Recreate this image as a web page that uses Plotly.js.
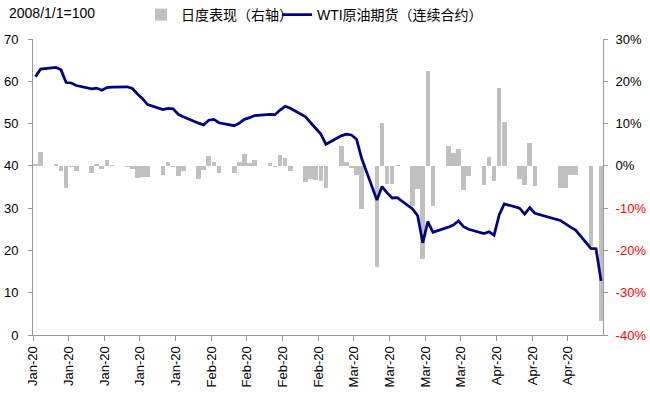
<!DOCTYPE html>
<html><head><meta charset="utf-8">
<script src="https://cdn.plot.ly/plotly-3.0.1.min.js"></script>
<style>html,body{margin:0;padding:0;background:#fff}#chart{width:650px;height:399px}</style>
</head><body><div id="chart"></div>
<script>
// ---- data ----
const dates = [
 '2020-01-02','2020-01-03','2020-01-06','2020-01-07','2020-01-08','2020-01-09','2020-01-10',
 '2020-01-13','2020-01-14','2020-01-15','2020-01-16','2020-01-17',
 '2020-01-20','2020-01-21','2020-01-22','2020-01-23','2020-01-24',
 '2020-01-27','2020-01-28','2020-01-29','2020-01-30','2020-01-31',
 '2020-02-03','2020-02-04','2020-02-05','2020-02-06','2020-02-07',
 '2020-02-10','2020-02-11','2020-02-12','2020-02-13','2020-02-14',
 '2020-02-17','2020-02-18','2020-02-19','2020-02-20','2020-02-21',
 '2020-02-24','2020-02-25','2020-02-26','2020-02-27','2020-02-28',
 '2020-03-02','2020-03-03','2020-03-04','2020-03-05','2020-03-06',
 '2020-03-09','2020-03-10','2020-03-11','2020-03-12','2020-03-13',
 '2020-03-16','2020-03-17','2020-03-18','2020-03-19','2020-03-20',
 '2020-03-23','2020-03-24','2020-03-25','2020-03-26','2020-03-27',
 '2020-03-30','2020-03-31','2020-04-01','2020-04-02','2020-04-03',
 '2020-04-06','2020-04-07','2020-04-08','2020-04-09',
 '2020-04-14','2020-04-15','2020-04-16','2020-04-17',
 '2020-04-20','2020-04-21','2020-04-22'
];
// WTI crude futures (continuous), index 2008/1/1=100, left axis
const wti = [
 61.1,62.9,63.3,62.7,59.7,59.6,59.0,
 58.2,58.4,57.9,58.5,58.6,
 58.7,58.3,57.0,55.9,54.5,
 53.3,53.6,53.5,52.2,51.6,
 50.1,49.7,50.8,51.0,50.2,
 49.5,50.1,51.0,51.4,51.9,
 52.2,52.1,53.2,54.1,53.6,
 51.6,50.2,48.9,47.5,45.1,
 47.1,47.5,47.3,46.3,41.8,
 31.9,35.1,33.6,32.4,32.5,
 29.8,28.2,21.8,26.8,24.3,
 25.5,26.0,27.0,25.6,25.0,
 24.0,24.4,23.6,28.4,31.0,
 30.0,28.6,30.1,28.8,
 27.1,26.2,25.5,24.8,
 20.5,20.4,12.8
];
// daily performance in %, right axis
const daily = [
 0.4,3.2,0.4,-1.2,-5.3,-0.3,-1.3,
 -1.8,0.4,-0.8,1.3,0.3,
 -0.3,-0.8,-2.9,-2.6,-2.7,
 -2.2,0.8,-0.3,-2.5,-1.3,
 -3.1,-0.9,2.3,0.8,-1.6,
 -1.7,0.9,2.7,0.6,1.3,
 0.7,-0.3,2.5,1.8,-1.2,
 -3.9,-3.1,-3.3,-3.6,-5.3,
 4.6,1.0,-0.5,-2.1,-10.1,
 -23.9,10.2,-4.2,-4.2,0.3,
 -9.6,-5.5,-22.0,22.4,-9.4,
 4.8,3.0,3.9,-5.6,-2.5,
 -4.5,2.0,-3.5,18.3,10.3,
 -3.2,-4.6,5.4,-4.7,
 -5.3,-5.3,-2.2,-2.2,
 -18.9,0,-36.8
];
const rightTickVals = [-40,-30,-20,-10,0,10,20,30];
const rightTickText = ['-40%','-30%','-20%','-10%','0%','10%','20%','30%'];
const leftTickVals = [0,10,20,30,40,50,60,70];
const seriesNames = ['日度表现（右轴）','WTI原油期货（连续合约）'];
const indexNote = '2008/1/1=100';

// ---- drawing ----
const FONT = '"Liberation Sans", Arial, "Noto Sans CJK SC", sans-serif';
const DAY = 86400000;
const rightText = rightTickText.map((t, i) =>
  rightTickVals[i] < 0 ? '<span style="color:#ff0000">' + t + '</span>' : t);

const traces = [
  {type:'bar', x:dates, y:daily, name:seriesNames[0], yaxis:'y', legend:'legend',
   width:DAY*0.9, marker:{color:'#c0c0c0', line:{width:0}}, hoverinfo:'skip'},
  {type:'scatter', mode:'lines', x:dates, y:wti, name:seriesNames[1], yaxis:'y2', legend:'legend2',
   line:{color:'#000080', width:2.75}, hoverinfo:'skip'}
];

const legendBase = {orientation:'h', xanchor:'left', y:1.135, yanchor:'top',
  font:{family:FONT, size:14, color:'#000'}, bgcolor:'rgba(0,0,0,0)', itemwidth:30};

const layout = {
  width:650, height:399,
  margin:{l:33, r:47, t:39, b:64, pad:0, autoexpand:false},
  paper_bgcolor:'#fff', plot_bgcolor:'#fff',
  font:{family:FONT, size:13, color:'#000'},
  showlegend:true,
  legend:Object.assign({}, legendBase, {x:0.1895}),
  legend2:Object.assign({}, legendBase, {x:0.428}),
  bargap:0,
  xaxis:{type:'date', range:['2020-01-01 12:00','2020-04-22 09:00'],
         tick0:'2020-01-01 12:00', dtick:7*DAY, tickformat:'%b-%y',
         tickangle:-90, ticks:'outside', ticklen:5, tickcolor:'#999',
         showline:true, linecolor:'#999', linewidth:1, showgrid:false, zeroline:false,
         tickfont:{family:FONT, size:13, color:'#000'}},
  yaxis:{side:'right', range:[-40,30], tickmode:'array', tickvals:rightTickVals, ticktext:rightText,
         ticks:'outside', ticklen:4, tickcolor:'#999', showline:true, linecolor:'#999', linewidth:1,
         showgrid:false, zeroline:false, ticklabelstandoff:5,
         tickfont:{family:FONT, size:13, color:'#000'}},
  yaxis2:{overlaying:'y', side:'left', range:[0,70], tickmode:'array', tickvals:leftTickVals,
          ticks:'outside', ticklen:4, tickcolor:'#999', showline:true, linecolor:'#999', linewidth:1,
          showgrid:false, zeroline:false, ticklabelstandoff:7,
          tickfont:{family:FONT, size:13, color:'#000'}},
  annotations:[{text:indexNote, xref:'paper', yref:'paper', x:-0.046, y:1.087,
                xanchor:'left', yanchor:'middle', showarrow:false,
                font:{family:FONT, size:14, color:'#000'}}]
};

Plotly.newPlot('chart', traces, layout, {displayModeBar:false, staticPlot:true});
</script>
</body></html>
